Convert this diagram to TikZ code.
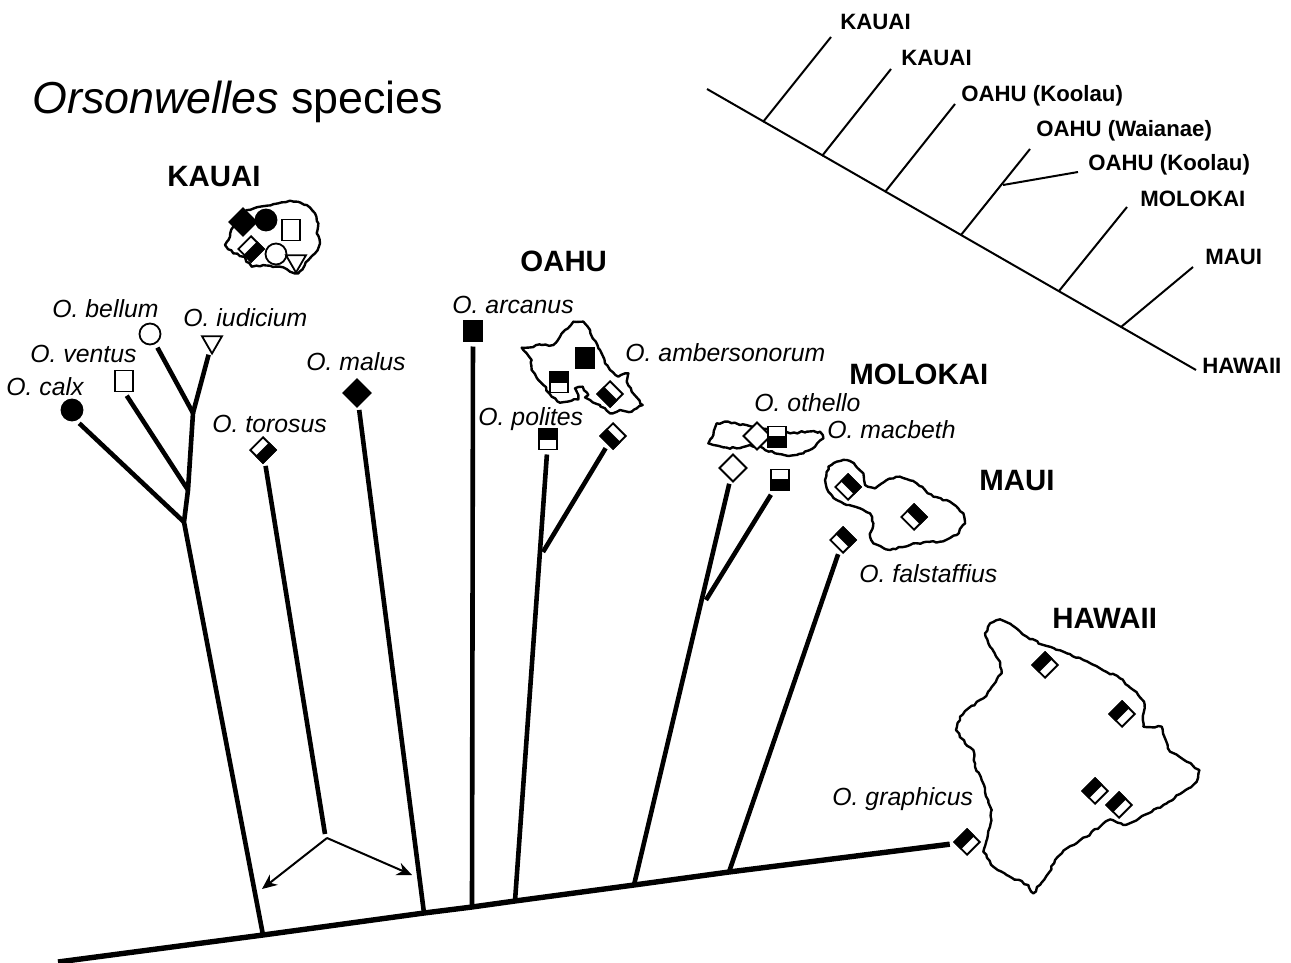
\documentclass[tikz,border=0pt]{standalone}
\usepackage{fontspec}
\setmainfont{Liberation Sans}
\usetikzlibrary{arrows.meta,shapes.geometric,decorations.pathmorphing}

% half-black square: name, position, turn, width, height
\newcommand{\halfmark}[5]{%
  \node[halfbox, rotate=#3, minimum width=#4, minimum height=#5] (#1) at (#2) {};
  \filldraw[line width=.9pt] (#1.north west) -- (#1.north east) -- (#1.east) -- (#1.west) -- cycle;
}

\begin{document}
\begin{tikzpicture}[
  x=.5pt, y=-.5pt,
  species/.style={font=\fontsize{12.4}{14}\selectfont\itshape, anchor=west, inner sep=0pt},
  island/.style={font=\fontsize{14.7}{16}\selectfont\bfseries, anchor=west, inner sep=0pt},
  area/.style={font=\fontsize{11.1}{12}\selectfont\bfseries, anchor=west, inner sep=0pt},
  coast/.style={line width=1.2pt, line join=round, fill=white,
                decorate, decoration={random steps, segment length=1.8pt, amplitude=.5pt}},
  symbol/.style={draw, line width=.9pt, fill=white, inner sep=0pt, outer sep=0pt},
  whitebox/.style={symbol, rectangle, minimum width=9pt, minimum height=10.5pt},
  blackbox/.style={whitebox, fill=black},
  whitedia/.style={symbol, diamond, aspect=1, minimum size=13.5pt},
  blackdia/.style={whitedia, fill=black},
  whitedot/.style={symbol, circle, minimum size=10.5pt},
  blackdot/.style={whitedot, fill=black},
  whitetri/.style={symbol, regular polygon, regular polygon sides=3,
                   shape border rotate=180, minimum size=11.5pt},
  halfbox/.style={symbol, rectangle},
  branch/.style={line width=2.3pt, shorten >=2.5pt},
  trunk/.style={line width=2.3pt, line join=round},
  base/.style={line width=2.7pt, shorten >=3pt},
  twig/.style={line width=1pt},
  pointer/.style={-{Stealth[length=7.5pt,width=6.5pt]}, line width=1pt},
]
\useasboundingbox (0,0) rectangle (1291,963);
\pgfmathsetseed{7}

% islands
\begin{scope}[shift={(200,180)}, x=.1667pt, y=-.1667pt]
  \draw[coast] (235,70) -- (270,62) -- (320,75) -- (345,100) -- (355,130) -- (350,160) -- (360,190)
    -- (345,220) -- (325,240) -- (295,280) -- (270,275) -- (240,260) -- (190,255) -- (155,260)
    -- (130,230) -- (100,220) -- (75,195) -- (90,170) -- (100,140) -- (140,90) -- (180,80) -- cycle;
\end{scope}
\begin{scope}[shift={(510,310)}, x=.1667pt, y=-.1667pt]
  \draw[coast] (35,113) -- (95,105) -- (130,105) -- (150,80) -- (165,60) -- (190,35) -- (220,35)
    -- (240,60) -- (248,85) -- (270,120) -- (285,160) -- (300,180) -- (325,200) -- (345,190)
    -- (355,190) -- (350,215) -- (365,245) -- (398,285) -- (380,295) -- (365,305) -- (330,300)
    -- (300,310) -- (270,285) -- (240,270) -- (225,262) -- (235,255) -- (218,230) -- (195,235)
    -- (205,255) -- (205,268) -- (185,272) -- (150,278) -- (125,260) -- (100,225) -- (85,210)
    -- (65,180) -- (65,150) -- (50,130) -- cycle;
\end{scope}
\begin{scope}[shift={(700,410)}, x=.1667pt, y=-.1667pt]
  \draw[coast] (25,100) -- (40,75) -- (50,40) -- (85,35) -- (120,45) -- (165,50) -- (215,60)
    -- (270,70) -- (320,65) -- (360,65) -- (370,85) -- (345,110) -- (310,130) -- (265,138)
    -- (225,130) -- (190,115) -- (150,105) -- (110,115) -- (70,112) -- (40,105) -- cycle;
  \draw[coast] (375,210) -- (385,170) -- (410,155) -- (440,150) -- (465,165) -- (490,190)
    -- (495,225) -- (525,235) -- (560,210) -- (600,200) -- (650,220) -- (700,260) -- (750,275)
    -- (790,310) -- (795,340) -- (770,375) -- (720,395) -- (680,395) -- (630,405) -- (570,420)
    -- (520,400) -- (510,380) -- (520,340) -- (510,310) -- (480,295) -- (440,285) -- (410,270)
    -- (385,245) -- cycle;
\end{scope}
\begin{scope}[shift={(940,610)}, x=.1667pt, y=-.1667pt]
  \draw[coast] (135,70) -- (150,40) -- (180,28) -- (215,45) -- (260,80) -- (310,105) -- (370,125)
    -- (430,150) -- (480,175) -- (540,205) -- (580,240) -- (612,275) -- (610,350) -- (665,350)
    -- (675,385) -- (690,425) -- (740,455) -- (778,480) -- (770,515) -- (730,545) -- (680,580)
    -- (625,610) -- (580,635) -- (550,645) -- (510,628) -- (490,640) -- (440,680) -- (380,715)
    -- (345,750) -- (325,790) -- (280,850) -- (265,825) -- (200,795) -- (160,770) -- (130,725)
    -- (150,650) -- (155,600) -- (135,545) -- (125,510) -- (105,470) -- (100,420) -- (75,400)
    -- (48,360) -- (60,320) -- (85,295) -- (130,265) -- (160,225) -- (185,190) -- (180,155)
    -- (150,110) -- cycle;
\end{scope}

% headings
\node[anchor=west, inner sep=0pt, font=\fontsize{22.4}{25}\selectfont] (title) at (32,102) {\textit{Orsonwelles} species};
\node[island] (kauai)   at (167,177) {KAUAI};
\node[island] (oahu)    at (520,261) {OAHU};
\node[island] (molokai) at (849,374) {MOLOKAI};
\node[island] (maui)    at (979,481) {MAUI};
\node[island] (hawaii)  at (1052,618) {HAWAII};

% symbols on the islands
\node[blackdia] (kdia) at (243,222) {};
\node[blackdot] (kdot) at (266,220) {};
\node[whitebox] (kbox) at (291,230) {};
\halfmark{khalf}{251,249}{-135}{9pt}{9pt}
\node[whitedot] (kring) at (276,254) {};
\node[whitetri] (ktri) at (296,261) {};
\node[blackbox] (obox) at (585,358) {};
\halfmark{ohalf}{559,382}{0}{9pt}{10.5pt}
\halfmark{odia}{610,394}{135}{9pt}{9pt}
\node[whitedia] (mdia) at (757,436) {};
\halfmark{mhalf}{777,437}{180}{9pt}{10.5pt}
\halfmark{mauiw}{848,487}{-45}{9pt}{9pt}
\halfmark{mauie}{914,517}{-45}{9pt}{9pt}
\halfmark{hawn}{1045,665}{45}{9pt}{9pt}
\halfmark{hawe}{1122,714}{45}{9pt}{9pt}
\halfmark{haws}{1095,791}{45}{9pt}{9pt}
\halfmark{hawt}{1119,805}{45}{9pt}{9pt}

% symbols at the tips
\node[blackdot] (calx) at (72,410) {};
\node[whitebox] (ventus) at (124,381) {};
\node[whitedot] (bellum) at (150,334) {};
\node[whitetri] (iudicium) at (212,342) {};
\halfmark{torosus}{263,450}{-135}{9pt}{9pt}
\node[blackdia] (malus) at (357,393) {};
\node[blackbox] (arcanus) at (473,331) {};
\halfmark{polites}{548,439}{0}{9pt}{10.5pt}
\halfmark{ambers}{613,436}{135}{9pt}{9pt}
\node[whitedia] (othello) at (733,468) {};
\halfmark{macbeth}{780,480}{180}{9pt}{10.5pt}
\halfmark{falstaff}{843,540}{-45}{9pt}{9pt}
\halfmark{graphicus}{967,842}{45}{9pt}{9pt}

% species names
\node[species] (lcalx) at (6,387) {O. calx};
\node[species] (lventus) at (30,354) {O. ventus};
\node[species] (lbellum) at (52,309) {O. bellum};
\node[species] (liudicium) at (183,318) {O. iudicium};
\node[species] (ltorosus) at (212,424) {O. torosus};
\node[species] (lmalus) at (306,362) {O. malus};
\node[species] (larcanus) at (452,305) {O. arcanus};
\node[species] (lpolites) at (478,419) {O. polites};
\node[species] (lambers) at (625,353) {O. ambersonorum};
\node[species] (lothello) at (754,403) {O. othello};
\node[species] (lmacbeth) at (827,430) {O. macbeth};
\node[species] (lfalstaff) at (859,574) {O. falstaffius};
\node[species] (lgraphicus) at (832,799) {O. graphicus};

% main tree
\coordinate (root) at (58,962);
\coordinate (b1) at (263,935);
\coordinate (b2) at (424,913);
\coordinate (b3) at (472,907);
\coordinate (b4) at (515,901);
\coordinate (b5) at (634,885);
\coordinate (b6) at (729,872);
\coordinate (j1) at (184,522);
\coordinate (j2) at (188,490);
\coordinate (j3) at (193,413);
\coordinate (j4) at (543,552);
\coordinate (j5) at (706,600);
\coordinate (stem) at (325,834);
\coordinate (fork) at (327,838);
\coordinate (forkl) at (262,889);
\coordinate (forkr) at (412,875);

\draw[base] (root) -- (b1) -- (b2) -- (b3) -- (b4) -- (b5) -- (b6) -- (graphicus);
\draw[trunk] (b1) -- (j1) -- (j2) -- (j3);
\draw[branch] (j1) -- (calx.290);
\draw[branch] (j2) -- (ventus.south);
\draw[branch] (j3) -- (bellum);
\draw[branch] (j3) -- (iudicium);
\draw[branch] (stem) -- (torosus);
\draw[branch] (b2) -- (malus);
\draw[branch] (b3) -- (arcanus);
\draw[branch] (b4) -- (polites);
\draw[branch] (j4) -- (ambers);
\draw[branch] (b5) -- (othello);
\draw[branch] (j5) -- (macbeth);
\draw[branch] (b6) -- (falstaff);
\draw[pointer] (fork) -- (forkl);
\draw[pointer] (fork) -- (forkr);

% area cladogram
\coordinate (astart) at (707,89);
\coordinate (a1) at (763,122);
\coordinate (a2) at (822,156);
\coordinate (a3) at (885,192);
\coordinate (a4) at (961,235);
\coordinate (a5) at (1059,291);
\coordinate (a6) at (1121,327);
\coordinate (aend) at (1196,370);
\coordinate (t1) at (831,37);
\coordinate (t2) at (891,69);
\coordinate (t3) at (955,104);
\coordinate (t4) at (1030,149);
\coordinate (s4) at (1003,185);
\coordinate (u4) at (1078,172);
\coordinate (t5) at (1127,207);
\coordinate (t6) at (1193,267);

\draw[twig] (astart) -- (aend);
\draw[twig] (a1) -- (t1);
\draw[twig] (a2) -- (t2);
\draw[twig] (a3) -- (t3);
\draw[twig] (a4) -- (t4);
\draw[twig] (s4) -- (u4);
\draw[twig] (a5) -- (t5);
\draw[twig] (a6) -- (t6);

\node[area] (akauai1) at (840,22) {KAUAI};
\node[area] (akauai2) at (901,58) {KAUAI};
\node[area] (akoolau1) at (961,96) {OAHU (Koolau)};
\node[area] (awaianae) at (1036,131) {OAHU (Waianae)};
\node[area] (akoolau2) at (1088,165) {OAHU (Koolau)};
\node[area] (amolokai) at (1140,199) {MOLOKAI};
\node[area] (amaui) at (1205,257) {MAUI};
\node[area] (ahawaii) at (1202,366) {HAWAII};

\end{tikzpicture}
\end{document}
